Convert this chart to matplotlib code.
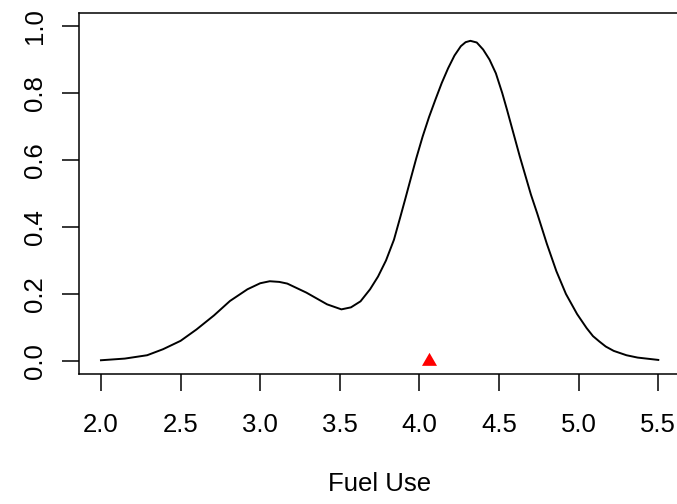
import matplotlib
matplotlib.use("Agg")
import matplotlib.pyplot as plt

plt.rcParams['font.family'] = ['Liberation Sans', 'DejaVu Sans']

# density curve
fuel = [2.00, 2.15, 2.29, 2.39, 2.50, 2.60, 2.71, 2.81, 2.92, 3.00, 3.06,
        3.12, 3.17, 3.29, 3.42, 3.51, 3.57, 3.63, 3.69, 3.74, 3.79, 3.84,
        3.88, 3.91, 3.94, 3.98, 4.02, 4.06, 4.10, 4.14, 4.18, 4.22, 4.26,
        4.29, 4.32, 4.36, 4.40, 4.44, 4.48, 4.52, 4.55, 4.63, 4.70, 4.74,
        4.80, 4.86, 4.92, 4.99, 5.05, 5.09, 5.13, 5.17, 5.22, 5.30, 5.37,
        5.50]
density = [0.002, 0.007, 0.017, 0.035, 0.060, 0.094, 0.136, 0.179, 0.214,
           0.232, 0.238, 0.236, 0.231, 0.204, 0.169, 0.154, 0.160, 0.178,
           0.214, 0.252, 0.300, 0.362, 0.430, 0.482, 0.535, 0.605, 0.670,
           0.728, 0.780, 0.830, 0.874, 0.912, 0.940, 0.952, 0.956, 0.951,
           0.930, 0.900, 0.859, 0.800, 0.750, 0.611, 0.497, 0.440, 0.350,
           0.268, 0.200, 0.140, 0.098, 0.074, 0.058, 0.043, 0.030, 0.017,
           0.010, 0.003]

# observed value marked on the axis
obs_x = [4.06]
obs_y = [0.0]

xticks = [2.0, 2.5, 3.0, 3.5, 4.0, 4.5, 5.0, 5.5]
yticks = [0.0, 0.2, 0.4, 0.6, 0.8, 1.0]

fig = plt.figure(figsize=(6.77, 5.04), dpi=100)
ax = fig.add_axes([0.1162, 0.2573, 0.8891, 0.7175])

ax.plot(fuel, density, color='black', linewidth=1.4)

# triangle centred on its centroid, like R's pch 17
tri = [(0, 1), (-0.866, -0.5), (0.866, -0.5), (0, 1)]
ax.plot(obs_x, obs_y, linestyle='none', marker=tri, markersize=12.5,
        color='red', markeredgewidth=0, clip_on=False)

ax.set_xlim(1.86, 5.64)
ax.set_ylim(-0.04, 1.04)
ax.set_xticks(xticks)
ax.set_xticklabels([f"{v:.1f}" for v in xticks])
ax.set_yticks(yticks)
ax.set_yticklabels([f"{v:.1f}" for v in yticks], rotation=90, va='center')

ax.tick_params(axis='both', length=12, width=1.1, labelsize=18.5, color='black')
ax.tick_params(axis='x', pad=16)
ax.tick_params(axis='y', pad=11)
for s in ax.spines.values():
    s.set_linewidth(1.1)

ax.set_xlabel("Fuel Use", fontsize=18.5, labelpad=25)

fig.savefig("out.png", dpi=100)
